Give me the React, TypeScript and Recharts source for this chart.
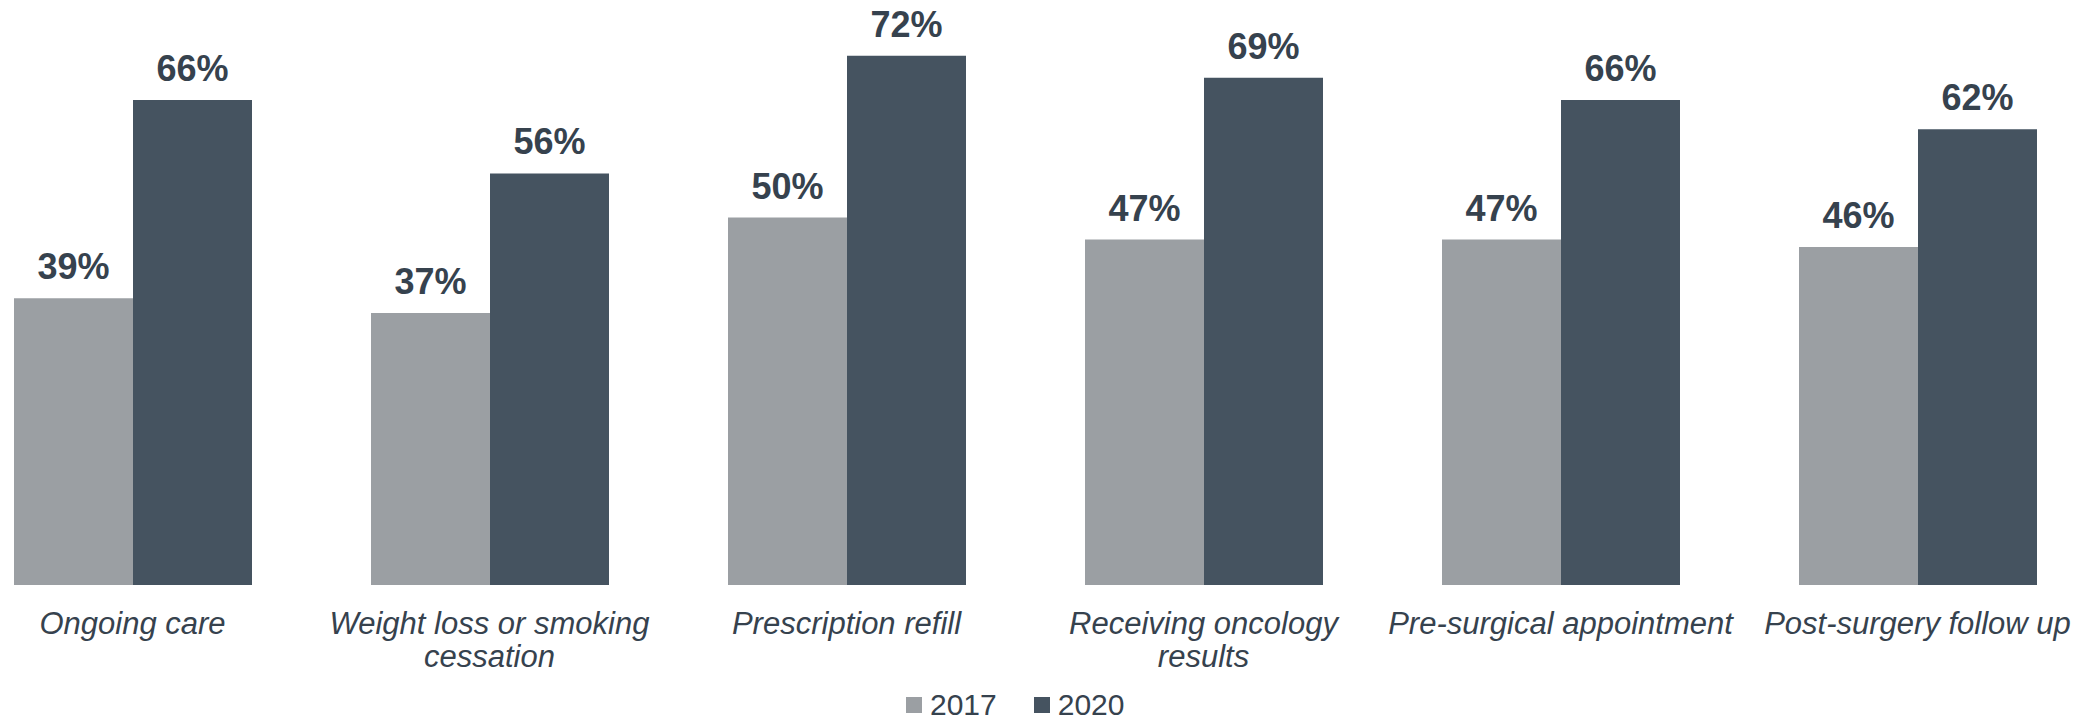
import React from 'react';
import { BarChart, Bar, XAxis, YAxis, LabelList, Legend } from 'recharts';

// category labels ("\n" marks where the label wraps)
const categories = [
    'Ongoing care',
    'Weight loss or smoking\ncessation',
    'Prescription refill',
    'Receiving oncology\nresults',
    'Pre-surgical appointment',
    'Post-surgery follow up',
];
const values2017 = [39, 37, 50, 47, 47, 46];
const values2020 = [66, 56, 72, 69, 66, 62];
const seriesNames = ['2017', '2020'];
const seriesColors = ['#9b9fa3', '#455360'];

const data = categories.map((name, i) => ({
    name,
    v2017: values2017[i],
    v2020: values2020[i],
}));

const FONT = '"Liberation Sans", Arial, sans-serif';
const TEXT = '#36424e';

function CategoryTick(props: any) {
    const { x, y, payload } = props;
    const lines = String(payload.value).split('\n');
    return (
        <text
            x={x}
            y={y + 49}
            textAnchor="middle"
            fill={TEXT}
            fontFamily={FONT}
            fontSize={31}
            fontStyle="italic"
        >
            {lines.map((line, i) => (
                <tspan key={i} x={x} dy={i === 0 ? 0 : 33}>
                    {line}
                </tspan>
            ))}
        </text>
    );
}

function YearLegend(props: any) {
    const { payload } = props;
    return (
        <div style={{ display: 'flex', alignItems: 'center', fontFamily: FONT, fontSize: 30, lineHeight: '26px', color: TEXT }}>
            {(payload || []).map((entry: any, i: number) => (
                <div key={i} style={{ display: 'flex', alignItems: 'center', marginRight: i === 0 ? 37 : 0 }}>
                    <span style={{ display: 'inline-block', width: 16, height: 16, background: entry.color, marginRight: 8 }} />
                    <span>{entry.value}</span>
                </div>
            ))}
        </div>
    );
}

export default function App() {
    return (
        <div style={{ position: 'absolute', left: 0, top: 0, width: 2090, height: 722, overflow: 'hidden', background: '#fff' }}>
            <div style={{ marginLeft: -46 }}>
                <BarChart
                    width={2142}
                    height={722}
                    data={data}
                    margin={{ top: -3, right: 0, bottom: 0, left: 0 }}
                    barGap={0}
                >
                    <XAxis
                        dataKey="name"
                        height={137}
                        axisLine={false}
                        tickLine={false}
                        tickSize={0}
                        tickMargin={0}
                        interval={0}
                        tick={(p: any) => <CategoryTick {...p} />}
                    />
                    <YAxis hide domain={[0, 80]} />
                    <Legend
                        layout="horizontal"
                        verticalAlign="middle"
                        align="center"
                        wrapperStyle={{ left: 952, top: 692, width: 'auto' }}
                        content={(p: any) => <YearLegend {...p} />}
                    />
                    <Bar dataKey="v2017" name={seriesNames[0]} fill={seriesColors[0]} barSize={119} isAnimationActive={false}>
                        <LabelList
                            dataKey="v2017"
                            position="top"
                            offset={19}
                            formatter={(v: any) => `${v}%`}
                            fill={TEXT}
                            fontFamily={FONT}
                            fontSize={36}
                            fontWeight="bold"
                        />
                    </Bar>
                    <Bar dataKey="v2020" name={seriesNames[1]} fill={seriesColors[1]} barSize={119} isAnimationActive={false}>
                        <LabelList
                            dataKey="v2020"
                            position="top"
                            offset={19}
                            formatter={(v: any) => `${v}%`}
                            fill={TEXT}
                            fontFamily={FONT}
                            fontSize={36}
                            fontWeight="bold"
                        />
                    </Bar>
                </BarChart>
            </div>
        </div>
    );
}
